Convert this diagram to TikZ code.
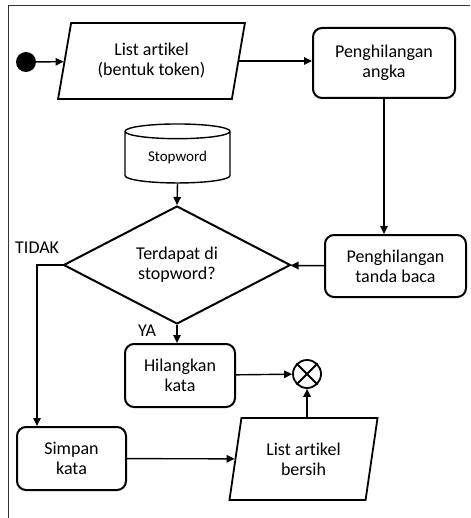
\documentclass[tikz,border=0pt]{standalone}
\usepackage{fontspec}
\setmainfont[Ligatures=NoCommon]{Carlito}
\usetikzlibrary{shapes.geometric,arrows.meta}
\begin{document}
\begin{tikzpicture}[x=1pt,y=-1pt,
  font=\fontsize{18}{20}\selectfont,
  box/.style={draw,line width=2pt,rounded corners=9pt,align=center,inner sep=0pt},
  para/.style={draw,line width=1.8pt,trapezium,trapezium stretches=true,
    align=center,inner sep=0pt},
  arr/.style={line width=1.4pt,-{Triangle[length=8pt,width=7.5pt]}},
  lbl/.style={inner sep=0pt}]
  \useasboundingbox (0,0) rectangle (470,518);
  % page frame
  \draw[line width=1pt,black!80] (8,518) -- (8,6) -- (470,6);

  % nodes
  \node[circle,fill,minimum size=20pt,inner sep=0pt] (start) at (26,62) {};
  \node[para,trapezium left angle=76,trapezium right angle=104,
        minimum width=187pt,minimum height=76pt] (in1) at (151.5,61) {List artikel\\(bentuk token)};
  \node[box,minimum width=142pt,minimum height=70pt] (angka) at (384,63) {Penghilangan\\angka};
  \node[box,minimum width=141pt,minimum height=62pt] (baca) at (395.5,266) {Penghilangan\\tanda baca};
  \node[draw,line width=1.4pt,cylinder,shape border rotate=90,aspect=0.25,
        minimum width=105pt,minimum height=59pt,inner sep=0pt,
        font=\fontsize{15}{17}\selectfont] (stop) at (177.5,157.5) {Stopword};
  \node[draw,line width=2pt,diamond,aspect=1.92,minimum width=227pt,minimum height=118pt,
        inner sep=0pt,align=center] (cek) at (177,265) {Terdapat di\\stopword?};
  \node[box,minimum width=110pt,minimum height=63pt] (hapus) at (180,375.5) {Hilangkan\\kata};
  \node[circle,draw,line width=1.8pt,minimum size=28pt,inner sep=0pt] (xor) at (307,374) {};
  \draw[line width=1.8pt] (xor.north west) -- (xor.south east) (xor.north east) -- (xor.south west);
  \node[box,minimum width=109pt,minimum height=63pt] (simpan) at (71.5,458.5) {Simpan\\kata};
  \node[para,trapezium left angle=77.6,trapezium right angle=102.4,
        minimum width=149pt,minimum height=82pt] (out) at (303.5,459) {List artikel\\bersih};

  % labels
  \node[lbl,anchor=west] (tidak) at (15,248) {TIDAK};
  \node[lbl] (ya) at (147,331) {YA};

  % connectors
  \coordinate (belok) at (37,265);
  \draw[arr] (start) -- (in1);
  \draw[arr] (in1.east) -- (in1.east -| angka.west);
  \draw[arr] (angka.south) -- (angka.south |- baca.north);
  \draw[arr] (baca) -- (cek);
  \draw[arr] (stop.south) -- (cek.north);
  \draw[arr] (cek.south) -- (cek.south |- hapus.north);
  \draw[arr] (cek.west) -- (belok) -- (belok |- simpan.north);
  \draw[arr] (hapus) -- (xor);
  \draw[arr] (simpan) -- (out);
  \draw[arr] (out.north -| xor) -- (xor.south);
\end{tikzpicture}
\end{document}
